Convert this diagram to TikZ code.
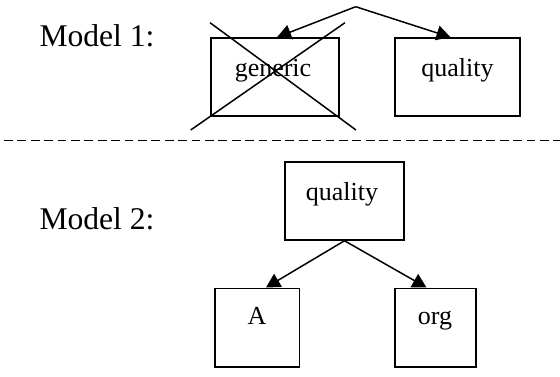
\documentclass[tikz,border=0pt]{standalone}
\usepackage{fontspec}
\setmainfont{Liberation Serif}
\usetikzlibrary{arrows.meta,calc}
\begin{document}
\begin{tikzpicture}[x=1pt,y=-1pt,
  box/.style={draw,line width=1.5pt,rectangle,inner sep=0pt},
  boxtext/.style={anchor=base,inner sep=0pt,font=\fontsize{26}{30}\selectfont},
  modeltext/.style={anchor=base,inner sep=0pt,font=\fontsize{31.6}{36}\selectfont},
  conn/.style={line width=1.5pt,-{Triangle[length=14pt,width=15pt]}},
  cross/.style={line width=1.5pt},
  sep/.style={line width=1.5pt,dash pattern=on 8.7pt off 4.7pt}]
\useasboundingbox (0,0) rectangle (560,376);
% Model 1
\node[modeltext] (m1) at (97,46) {Model 1:};
\node[box,minimum width=128pt,minimum height=78pt] (gen) at (275,77) {};
\node[box,minimum width=125pt,minimum height=78pt] (q1) at (457.5,77) {};
\node[boxtext] (gent) at (273,76) {generic};
\node[boxtext] (q1t) at (457.5,76) {quality};
\coordinate (apex) at (355.7,6.7);
\draw[conn] (apex) -- ($(gen.north)+(2,0)$);
\draw[conn] (apex) -- ($(q1.north)+(-7,0)$);
\coordinate (c1a) at (210,22.7);
\coordinate (c1b) at (356,130);
\coordinate (c2a) at (345,22.7);
\coordinate (c2b) at (190.7,130);
\draw[cross] (c1a) -- (c1b);
\draw[cross] (c2a) -- (c2b);
% separator
\coordinate (dl) at (4,140.5);
\coordinate (dr) at (560,140.5);
\draw[sep] (dl) -- (dr);
% Model 2
\node[modeltext] (m2) at (97,229) {Model 2:};
\node[box,minimum width=119pt,minimum height=78pt] (q2) at (344.5,201) {};
\node[box,minimum width=84.5pt,minimum height=78.5pt] (a) at (257,327.5) {};
\node[box,minimum width=81pt,minimum height=78.5pt] (org) at (435.5,327.5) {};
\node[boxtext] (q2t) at (342,200) {quality};
\node[boxtext] (at) at (257,324) {A};
\node[boxtext] (orgt) at (435,324) {org};
\draw[conn] (q2.south) -- ($(a.north)+(9,0)$);
\draw[conn] (q2.south) -- ($(org.north)+(-9,0)$);
\end{tikzpicture}
\end{document}
